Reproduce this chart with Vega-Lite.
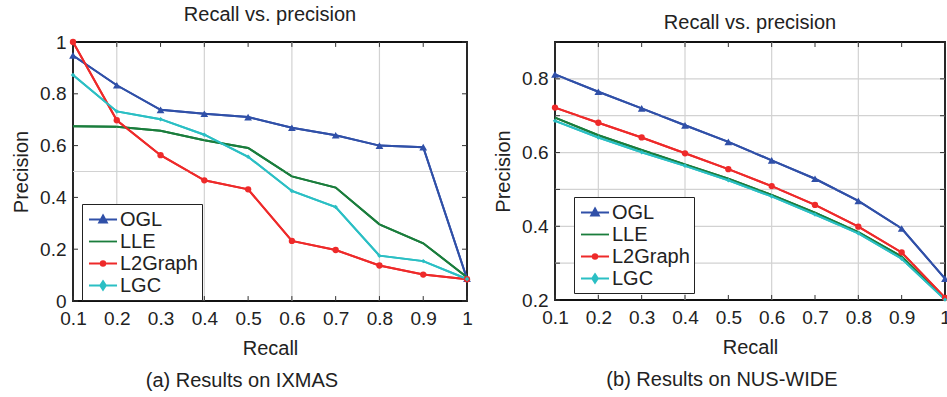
{
  "$schema": "https://vega.github.io/schema/vega-lite/v6.json",
  "padding": {"left": 10, "top": 4, "right": 4, "bottom": 2},
  "background": "white",
  "config": {
    "font": "Liberation Sans",
    "view": {"stroke": "#111", "strokeWidth": 1.8},
    "title": {"font": "Liberation Sans", "fontSize": 20, "fontWeight": "normal", "color": "#222"},
    "axis": {
      "labelFont": "Liberation Sans", "labelFontSize": 19, "labelColor": "#222",
      "titleFont": "Liberation Sans", "titleFontSize": 20, "titleFontWeight": "normal", "titleColor": "#222",
      "domain": false, "ticks": false, "grid": false
    }
  },
  "datasets": {
    "ixmas": [
      {"recall": 0.1, "method": "OGL", "precision": 0.948},
      {"recall": 0.2, "method": "OGL", "precision": 0.833},
      {"recall": 0.3, "method": "OGL", "precision": 0.738},
      {"recall": 0.4, "method": "OGL", "precision": 0.723},
      {"recall": 0.5, "method": "OGL", "precision": 0.710},
      {"recall": 0.6, "method": "OGL", "precision": 0.669},
      {"recall": 0.7, "method": "OGL", "precision": 0.640},
      {"recall": 0.8, "method": "OGL", "precision": 0.600},
      {"recall": 0.9, "method": "OGL", "precision": 0.594},
      {"recall": 1.0, "method": "OGL", "precision": 0.086},
      {"recall": 0.1, "method": "LLE", "precision": 0.675},
      {"recall": 0.2, "method": "LLE", "precision": 0.673},
      {"recall": 0.3, "method": "LLE", "precision": 0.657},
      {"recall": 0.4, "method": "LLE", "precision": 0.621},
      {"recall": 0.5, "method": "LLE", "precision": 0.591},
      {"recall": 0.6, "method": "LLE", "precision": 0.481},
      {"recall": 0.7, "method": "LLE", "precision": 0.438},
      {"recall": 0.8, "method": "LLE", "precision": 0.296},
      {"recall": 0.9, "method": "LLE", "precision": 0.223},
      {"recall": 1.0, "method": "LLE", "precision": 0.092},
      {"recall": 0.1, "method": "L2Graph", "precision": 1.0},
      {"recall": 0.2, "method": "L2Graph", "precision": 0.698},
      {"recall": 0.3, "method": "L2Graph", "precision": 0.563},
      {"recall": 0.4, "method": "L2Graph", "precision": 0.466},
      {"recall": 0.5, "method": "L2Graph", "precision": 0.431},
      {"recall": 0.6, "method": "L2Graph", "precision": 0.232},
      {"recall": 0.7, "method": "L2Graph", "precision": 0.197},
      {"recall": 0.8, "method": "L2Graph", "precision": 0.137},
      {"recall": 0.9, "method": "L2Graph", "precision": 0.102},
      {"recall": 1.0, "method": "L2Graph", "precision": 0.084},
      {"recall": 0.1, "method": "LGC", "precision": 0.873},
      {"recall": 0.2, "method": "LGC", "precision": 0.732},
      {"recall": 0.3, "method": "LGC", "precision": 0.702},
      {"recall": 0.4, "method": "LGC", "precision": 0.642},
      {"recall": 0.5, "method": "LGC", "precision": 0.557},
      {"recall": 0.6, "method": "LGC", "precision": 0.425},
      {"recall": 0.7, "method": "LGC", "precision": 0.363},
      {"recall": 0.8, "method": "LGC", "precision": 0.175},
      {"recall": 0.9, "method": "LGC", "precision": 0.154},
      {"recall": 1.0, "method": "LGC", "precision": 0.085}
    ],
    "nus": [
      {"recall": 0.1, "method": "OGL", "precision": 0.812},
      {"recall": 0.2, "method": "OGL", "precision": 0.765},
      {"recall": 0.3, "method": "OGL", "precision": 0.720},
      {"recall": 0.4, "method": "OGL", "precision": 0.674},
      {"recall": 0.5, "method": "OGL", "precision": 0.629},
      {"recall": 0.6, "method": "OGL", "precision": 0.579},
      {"recall": 0.7, "method": "OGL", "precision": 0.529},
      {"recall": 0.8, "method": "OGL", "precision": 0.469},
      {"recall": 0.9, "method": "OGL", "precision": 0.394},
      {"recall": 1.0, "method": "OGL", "precision": 0.258},
      {"recall": 0.1, "method": "LLE", "precision": 0.695},
      {"recall": 0.2, "method": "LLE", "precision": 0.647},
      {"recall": 0.3, "method": "LLE", "precision": 0.607},
      {"recall": 0.4, "method": "LLE", "precision": 0.568},
      {"recall": 0.5, "method": "LLE", "precision": 0.529},
      {"recall": 0.6, "method": "LLE", "precision": 0.485},
      {"recall": 0.7, "method": "LLE", "precision": 0.437},
      {"recall": 0.8, "method": "LLE", "precision": 0.384},
      {"recall": 0.9, "method": "LLE", "precision": 0.318},
      {"recall": 1.0, "method": "LLE", "precision": 0.203},
      {"recall": 0.1, "method": "L2Graph", "precision": 0.722},
      {"recall": 0.2, "method": "L2Graph", "precision": 0.681},
      {"recall": 0.3, "method": "L2Graph", "precision": 0.641},
      {"recall": 0.4, "method": "L2Graph", "precision": 0.598},
      {"recall": 0.5, "method": "L2Graph", "precision": 0.555},
      {"recall": 0.6, "method": "L2Graph", "precision": 0.509},
      {"recall": 0.7, "method": "L2Graph", "precision": 0.458},
      {"recall": 0.8, "method": "L2Graph", "precision": 0.399},
      {"recall": 0.9, "method": "L2Graph", "precision": 0.329},
      {"recall": 1.0, "method": "L2Graph", "precision": 0.206},
      {"recall": 0.1, "method": "LGC", "precision": 0.686},
      {"recall": 0.2, "method": "LGC", "precision": 0.641},
      {"recall": 0.3, "method": "LGC", "precision": 0.601},
      {"recall": 0.4, "method": "LGC", "precision": 0.564},
      {"recall": 0.5, "method": "LGC", "precision": 0.525},
      {"recall": 0.6, "method": "LGC", "precision": 0.481},
      {"recall": 0.7, "method": "LGC", "precision": 0.432},
      {"recall": 0.8, "method": "LGC", "precision": 0.381},
      {"recall": 0.9, "method": "LGC", "precision": 0.312},
      {"recall": 1.0, "method": "LGC", "precision": 0.201}
    ],
    "xticks": [{"t": 0.1}, {"t": 0.2}, {"t": 0.3}, {"t": 0.4}, {"t": 0.5}, {"t": 0.6}, {"t": 0.7}, {"t": 0.8}, {"t": 0.9}, {"t": 1.0}],
    "xgrid": [{"g": 0.2}, {"g": 0.4}, {"g": 0.6}, {"g": 0.8}],
    "yticksA": [{"t": 0}, {"t": 0.2}, {"t": 0.4}, {"t": 0.6}, {"t": 0.8}, {"t": 1.0}],
    "ygridA": [{"g": 0.5}],
    "yticksB": [{"t": 0.2}, {"t": 0.3}, {"t": 0.4}, {"t": 0.5}, {"t": 0.6}, {"t": 0.7}, {"t": 0.8}, {"t": 0.9}],
    "ygridB": [{"g": 0.3}, {"g": 0.4}, {"g": 0.5}, {"g": 0.6}, {"g": 0.7}, {"g": 0.8}]
  },
  "spacing": 18,
  "hconcat": [
    {
      "title": {"text": "(a) Results on IXMAS", "orient": "bottom", "anchor": "middle", "offset": 12},
      "vconcat": [
        {
          "title": {"text": "Recall vs. precision", "offset": 8},
          "width": 394,
          "height": 259,
          "layer": [
            {
              "data": {"name": "ixmas"},
              "mark": {"type": "line", "strokeWidth": 2},
              "encoding": {
                "x": {"field": "recall", "type": "quantitative", "title": "Recall", "scale": {"domain": [0.1, 1], "nice": false, "zero": false},
                  "axis": {"values": [0.1, 0.2, 0.3, 0.4, 0.5, 0.6, 0.7, 0.8, 0.9, 1], "format": "~g", "title": "Recall", "labelPadding": 8, "titlePadding": 10, "labelFlush": false}},
                "y": {"field": "precision", "type": "quantitative", "title": "Precision", "scale": {"domain": [0, 1], "nice": false},
                  "axis": {"values": [0, 0.2, 0.4, 0.6, 0.8, 1], "format": "~g", "title": "Precision", "labelPadding": 7, "titlePadding": 8, "labelFlush": false}},
                "color": {"field": "method", "type": "nominal",
                  "scale": {"domain": ["OGL", "LLE", "L2Graph", "LGC"], "range": ["#3050a8", "#1a7d3c", "#ee2a2a", "#2bbfc4"]}, "legend": null}
              }
            },
            {"data": {"name": "xgrid"}, "mark": {"type": "rule", "color": "#d2d2d2", "strokeWidth": 1.2},
             "encoding": {"x": {"field": "g", "type": "quantitative", "title": "Recall"}}},
            {"data": {"name": "ygridA"}, "mark": {"type": "rule", "color": "#d2d2d2", "strokeWidth": 1.2},
             "encoding": {"y": {"field": "g", "type": "quantitative", "title": "Precision"}}},
            {"data": {"name": "xticks"}, "mark": {"type": "rule", "color": "#333", "strokeWidth": 1},
             "encoding": {"x": {"field": "t", "type": "quantitative", "title": "Recall"}, "y": {"datum": 0, "type": "quantitative", "title": "Precision"}, "y2": {"datum": 0.019}}},
            {"data": {"name": "xticks"}, "mark": {"type": "rule", "color": "#333", "strokeWidth": 1},
             "encoding": {"x": {"field": "t", "type": "quantitative", "title": "Recall"}, "y": {"datum": 1, "type": "quantitative", "title": "Precision"}, "y2": {"datum": 0.981}}},
            {"data": {"name": "yticksA"}, "mark": {"type": "rule", "color": "#333", "strokeWidth": 1},
             "encoding": {"y": {"field": "t", "type": "quantitative", "title": "Precision"}, "x": {"datum": 0.1, "type": "quantitative", "title": "Recall"}, "x2": {"datum": 0.1114}}},
            {"data": {"name": "yticksA"}, "mark": {"type": "rule", "color": "#333", "strokeWidth": 1},
             "encoding": {"y": {"field": "t", "type": "quantitative", "title": "Precision"}, "x": {"datum": 1, "type": "quantitative", "title": "Recall"}, "x2": {"datum": 0.9886}}},
            {
              "data": {"name": "ixmas"},
              "mark": {"type": "line", "strokeWidth": 2},
              "encoding": {
                "x": {"field": "recall", "type": "quantitative", "title": "Recall"},
                "y": {"field": "precision", "type": "quantitative", "title": "Precision"},
                "color": {"field": "method", "type": "nominal",
                  "scale": {"domain": ["OGL", "LLE", "L2Graph", "LGC"], "range": ["#3050a8", "#1a7d3c", "#ee2a2a", "#2bbfc4"]}, "legend": null}
              }
            },
            {
              "data": {"name": "ixmas"},
              "transform": [{"filter": "datum.method !== 'LLE'"}],
              "mark": {"type": "point", "filled": true, "opacity": 1},
              "encoding": {
                "x": {"field": "recall", "type": "quantitative", "title": "Recall"},
                "y": {"field": "precision", "type": "quantitative", "title": "Precision"},
                "color": {"field": "method", "type": "nominal",
                  "scale": {"domain": ["OGL", "LLE", "L2Graph", "LGC"], "range": ["#3050a8", "#1a7d3c", "#ee2a2a", "#2bbfc4"]}, "legend": null},
                "shape": {"field": "method", "type": "nominal",
                  "scale": {"domain": ["OGL", "L2Graph", "LGC"], "range": ["triangle-up", "circle", "diamond"]}, "legend": null},
                "size": {"field": "method", "type": "nominal",
                  "scale": {"domain": ["OGL", "L2Graph", "LGC"], "range": [60, 20, 45]}, "legend": null}
              }
            },
            {
              "data": {"name": "ixmas"},
              "transform": [{"filter": "false"}],
              "mark": {"type": "point", "filled": true, "opacity": 1},
              "encoding": {
                "x": {"field": "recall", "type": "quantitative", "title": "Recall"},
                "y": {"field": "precision", "type": "quantitative", "title": "Precision"},
                "color": {"field": "method", "type": "nominal",
                  "scale": {"domain": ["OGL", "LLE", "L2Graph", "LGC"], "range": ["#3050a8", "#1a7d3c", "#ee2a2a", "#2bbfc4"]},
                  "legend": {"orient": "none", "legendX": 9, "legendY": 162, "title": null, "strokeColor": "#222", "fillColor": "white", "padding": 4, "symbolSize": 441, "symbolStrokeWidth": 1.8, "labelFontSize": 20, "labelFont": "Liberation Sans", "labelColor": "#222", "labelOffset": 11, "rowPadding": 0, "cornerRadius": 0}},
                "stroke": {"field": "method", "type": "nominal",
                  "scale": {"domain": ["OGL", "LLE", "L2Graph", "LGC"], "range": ["#3050a8", "#1a7d3c", "#ee2a2a", "#2bbfc4"]},
                  "legend": {"orient": "none", "legendX": 9, "legendY": 162, "title": null}},
                "shape": {"field": "method", "type": "nominal",
                  "scale": {"domain": ["OGL", "LLE", "L2Graph", "LGC"], "range": [
                    "M-0.81,0H1.86M0.524,-0.4L0.9,0.3L0.15,0.3Z",
                    "M-0.81,0H1.86",
                    "M-0.81,0H1.86M0.744,0A0.22,0.22,0,1,1,0.304,0A0.22,0.22,0,1,1,0.744,0Z",
                    "M-0.81,0H1.86M0.524,-0.42L0.8,0L0.524,0.42L0.25,0Z"]},
                  "legend": {"orient": "none", "legendX": 9, "legendY": 162, "title": null}}
              }
            }
          ],
          "resolve": {
            "scale": {"color": "independent", "shape": "independent", "stroke": "independent", "size": "independent"}
          }
        }
      ]
    },
    {
      "title": {"text": "(b) Results on NUS-WIDE", "orient": "bottom", "anchor": "middle", "offset": 12},
      "vconcat": [
        {
          "title": {"text": "Recall vs. precision", "offset": 8},
          "width": 390,
          "height": 258,
          "layer": [
            {
              "data": {"name": "nus"},
              "mark": {"type": "line", "strokeWidth": 2},
              "encoding": {
                "x": {"field": "recall", "type": "quantitative", "title": "Recall", "scale": {"domain": [0.1, 1], "nice": false, "zero": false},
                  "axis": {"values": [0.1, 0.2, 0.3, 0.4, 0.5, 0.6, 0.7, 0.8, 0.9, 1], "format": "~g", "title": "Recall", "labelPadding": 8, "titlePadding": 10, "labelFlush": false}},
                "y": {"field": "precision", "type": "quantitative", "title": "Precision", "scale": {"domain": [0.2, 0.9], "nice": false, "zero": false},
                  "axis": {"values": [0.2, 0.3, 0.4, 0.5, 0.6, 0.7, 0.8, 0.9], "format": "~g", "title": "Precision", "labelPadding": 7, "titlePadding": 8, "labelFlush": false}},
                "color": {"field": "method", "type": "nominal",
                  "scale": {"domain": ["OGL", "LLE", "L2Graph", "LGC"], "range": ["#3050a8", "#1a7d3c", "#ee2a2a", "#2bbfc4"]}, "legend": null}
              }
            },
            {"data": {"name": "xgrid"}, "mark": {"type": "rule", "color": "#d2d2d2", "strokeWidth": 1.2},
             "encoding": {"x": {"field": "g", "type": "quantitative", "title": "Recall"}}},
            {"data": {"name": "ygridB"}, "mark": {"type": "rule", "color": "#d2d2d2", "strokeWidth": 1.2},
             "encoding": {"y": {"field": "g", "type": "quantitative", "title": "Precision"}}},
            {"data": {"name": "xticks"}, "mark": {"type": "rule", "color": "#333", "strokeWidth": 1},
             "encoding": {"x": {"field": "t", "type": "quantitative", "title": "Recall"}, "y": {"datum": 0.2, "type": "quantitative", "title": "Precision"}, "y2": {"datum": 0.2136}}},
            {"data": {"name": "xticks"}, "mark": {"type": "rule", "color": "#333", "strokeWidth": 1},
             "encoding": {"x": {"field": "t", "type": "quantitative", "title": "Recall"}, "y": {"datum": 0.9, "type": "quantitative", "title": "Precision"}, "y2": {"datum": 0.8864}}},
            {"data": {"name": "yticksB"}, "mark": {"type": "rule", "color": "#333", "strokeWidth": 1},
             "encoding": {"y": {"field": "t", "type": "quantitative", "title": "Precision"}, "x": {"datum": 0.1, "type": "quantitative", "title": "Recall"}, "x2": {"datum": 0.1115}}},
            {"data": {"name": "yticksB"}, "mark": {"type": "rule", "color": "#333", "strokeWidth": 1},
             "encoding": {"y": {"field": "t", "type": "quantitative", "title": "Precision"}, "x": {"datum": 1, "type": "quantitative", "title": "Recall"}, "x2": {"datum": 0.9885}}},
            {
              "data": {"name": "nus"},
              "mark": {"type": "line", "strokeWidth": 2},
              "encoding": {
                "x": {"field": "recall", "type": "quantitative", "title": "Recall"},
                "y": {"field": "precision", "type": "quantitative", "title": "Precision"},
                "color": {"field": "method", "type": "nominal",
                  "scale": {"domain": ["OGL", "LLE", "L2Graph", "LGC"], "range": ["#3050a8", "#1a7d3c", "#ee2a2a", "#2bbfc4"]}, "legend": null}
              }
            },
            {
              "data": {"name": "nus"},
              "transform": [{"filter": "datum.method !== 'LLE'"}],
              "mark": {"type": "point", "filled": true, "opacity": 1},
              "encoding": {
                "x": {"field": "recall", "type": "quantitative", "title": "Recall"},
                "y": {"field": "precision", "type": "quantitative", "title": "Precision"},
                "color": {"field": "method", "type": "nominal",
                  "scale": {"domain": ["OGL", "LLE", "L2Graph", "LGC"], "range": ["#3050a8", "#1a7d3c", "#ee2a2a", "#2bbfc4"]}, "legend": null},
                "shape": {"field": "method", "type": "nominal",
                  "scale": {"domain": ["OGL", "L2Graph", "LGC"], "range": ["triangle-up", "circle", "diamond"]}, "legend": null},
                "size": {"field": "method", "type": "nominal",
                  "scale": {"domain": ["OGL", "L2Graph", "LGC"], "range": [60, 20, 45]}, "legend": null}
              }
            },
            {
              "data": {"name": "nus"},
              "transform": [{"filter": "false"}],
              "mark": {"type": "point", "filled": true, "opacity": 1},
              "encoding": {
                "x": {"field": "recall", "type": "quantitative", "title": "Recall"},
                "y": {"field": "precision", "type": "quantitative", "title": "Precision"},
                "color": {"field": "method", "type": "nominal",
                  "scale": {"domain": ["OGL", "LLE", "L2Graph", "LGC"], "range": ["#3050a8", "#1a7d3c", "#ee2a2a", "#2bbfc4"]},
                  "legend": {"orient": "none", "legendX": 19, "legendY": 155, "title": null, "strokeColor": "#222", "fillColor": "white", "padding": 4, "symbolSize": 441, "symbolStrokeWidth": 1.8, "labelFontSize": 20, "labelFont": "Liberation Sans", "labelColor": "#222", "labelOffset": 11, "rowPadding": 0, "cornerRadius": 0}},
                "stroke": {"field": "method", "type": "nominal",
                  "scale": {"domain": ["OGL", "LLE", "L2Graph", "LGC"], "range": ["#3050a8", "#1a7d3c", "#ee2a2a", "#2bbfc4"]},
                  "legend": {"orient": "none", "legendX": 19, "legendY": 155, "title": null}},
                "shape": {"field": "method", "type": "nominal",
                  "scale": {"domain": ["OGL", "LLE", "L2Graph", "LGC"], "range": [
                    "M-0.81,0H1.86M0.524,-0.4L0.9,0.3L0.15,0.3Z",
                    "M-0.81,0H1.86",
                    "M-0.81,0H1.86M0.744,0A0.22,0.22,0,1,1,0.304,0A0.22,0.22,0,1,1,0.744,0Z",
                    "M-0.81,0H1.86M0.524,-0.42L0.8,0L0.524,0.42L0.25,0Z"]},
                  "legend": {"orient": "none", "legendX": 19, "legendY": 155, "title": null}}
              }
            }
          ],
          "resolve": {
            "scale": {"color": "independent", "shape": "independent", "stroke": "independent", "size": "independent"}
          }
        }
      ]
    }
  ]
}
